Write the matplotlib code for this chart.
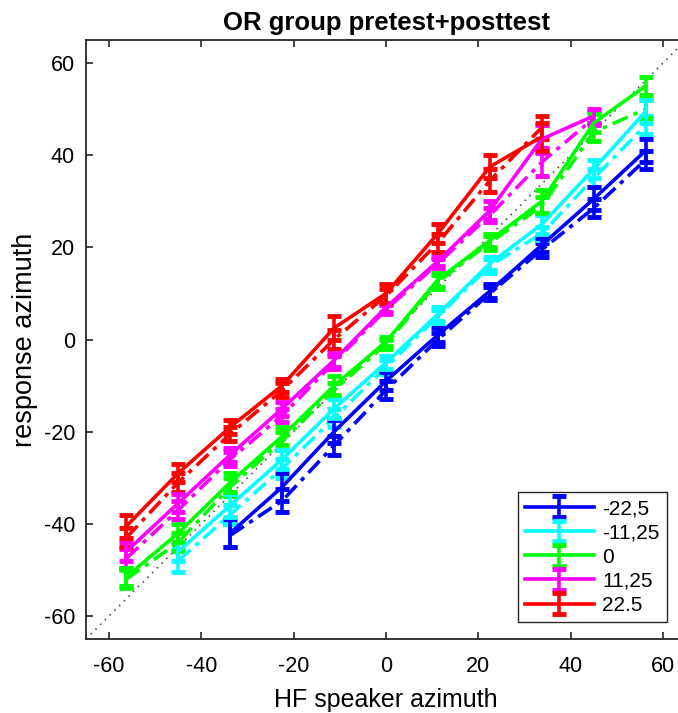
import matplotlib.pyplot as plt
import numpy as np

plt.rcParams['font.family'] = ['Liberation Sans', 'DejaVu Sans']
plt.rcParams['axes.unicode_minus'] = False

# speaker azimuths (HF)
az = np.array([-56.25, -45, -33.75, -22.5, -11.25, 0, 11.25, 22.5, 33.75, 45, 56.25])

labels = ['-22,5', '-11,25', '0', '11,25', '22.5']
colors = ['#0000ff', '#00ffff', '#00ff00', '#ff00ff', '#ff0000']

# pretest (solid) mean responses, nan = no data
pre = [
    [np.nan, np.nan, -42, -32, -20, -9, 1, 10.5, 20.5, 30.5, 41],
    [np.nan, -46, -36, -26, -15, -5, 5.5, 16.5, 25, 37, 49.5],
    [-51.5, -42, -31, -21, -10, -0.5, 13, 21.5, 30, 47, 55],
    [-46, -35.5, -25, -15, -4.5, 7, 17, 28, 43.5, 48.5, np.nan],
    [-40.5, -29, -19, -10, 2.5, 10, 23, 37.5, 44, np.nan, np.nan],
]
pre_err = [
    [0, 0, 3, 3, 2.5, 2, 1.5, 1.5, 1.5, 2.5, 2.5],
    [0, 2, 2.5, 2, 2, 1.5, 1.5, 1.5, 2, 2, 2.5],
    [2, 2, 2, 2, 2, 1, 1.5, 1.5, 2.5, 2, 2],
    [2, 2, 1.5, 1.5, 1.5, 1, 1, 2, 3, 1.5, 0],
    [2.5, 2, 1.5, 1.5, 2.5, 2, 2, 2.5, 3, 0, 0],
]

# posttest (dash-dot) mean responses
post = [
    [np.nan, np.nan, -42.5, -35, -23, -11, 0, 10, 19.5, 28.5, 39],
    [np.nan, -48, -38, -28, -17, -6, 5, 16, 23, 35, 46.5],
    [-52, -44, -32, -22, -11, -1, 12.5, 21, 29, 45, 50],
    [-47.5, -37, -26, -16.5, -5, 6.5, 16.5, 27, 38.5, 48, np.nan],
    [-43, -31, -20.5, -11, 0, 9.5, 21, 34.5, 46, np.nan, np.nan],
]
post_err = [
    [0, 0, 2.5, 2.5, 2, 2, 1.5, 1.5, 1.5, 2, 2],
    [0, 2.5, 2, 2, 2, 1.5, 1.5, 1.5, 1.5, 2, 2],
    [2, 2, 2, 2, 1.5, 1, 1.5, 1.5, 2, 2, 2],
    [2, 2, 1.5, 1.5, 1.5, 1, 1, 1.5, 3, 1.5, 0],
    [2, 2, 1.5, 1.5, 2, 1.5, 2, 2.5, 2.5, 0, 0],
]

fig = plt.figure(figsize=(6.78, 7.13), dpi=100)
ax = fig.add_axes([86 / 678, 74 / 713, 600 / 678, 599 / 713])

ax.plot([-65, 65], [-65, 65], linestyle=(0, (1, 3)), color='#555555', lw=1.2, zorder=1)

handles = []
for i in range(5):
    y = np.array(pre[i], dtype=float)
    m = ~np.isnan(y)
    h = ax.errorbar(az[m], y[m], yerr=np.array(pre_err[i])[m], color=colors[i],
                    lw=2.6, capsize=5, capthick=3.5, elinewidth=2.6, label=labels[i], zorder=3)
    handles.append(h)
    y2 = np.array(post[i], dtype=float)
    m2 = ~np.isnan(y2)
    h2 = ax.errorbar(az[m2], y2[m2], yerr=np.array(post_err[i])[m2], color=colors[i],
                     lw=2.6, capsize=5, capthick=3.5, elinewidth=2.6, zorder=2)
    h2[0].set_dashes([4.5, 1.8, 1.2, 1.8])

ax.set_xlim(-65, 65)
ax.set_ylim(-65, 65)
ax.set_xticks(np.arange(-60, 61, 20))
ax.set_yticks(np.arange(-60, 61, 20))
ax.tick_params(direction='in', length=5, width=1.2, labelsize=15.5, color='#262626',
               top=True, right=True)
ax.tick_params(axis='x', pad=12)
ax.tick_params(axis='y', pad=8)
for s in ax.spines.values():
    s.set_color('#262626')
    s.set_linewidth(1.3)

ax.set_xlabel('HF speaker azimuth', fontsize=18, labelpad=8)
ax.set_ylabel('response azimuth', fontsize=19.5, labelpad=4)
ax.set_title('OR group pretest+posttest', fontsize=18.5, fontweight='bold', pad=7)

leg = ax.legend(handles=handles, loc='lower right', bbox_to_anchor=(0.968, 0.028),
                borderaxespad=0, fontsize=15, handlelength=3.3, fancybox=False,
                framealpha=1, edgecolor='#262626', labelspacing=0.25, borderpad=0.35,
                handletextpad=0.4)
leg.get_frame().set_linewidth(1.0)

fig.savefig('out.png', dpi=100)
